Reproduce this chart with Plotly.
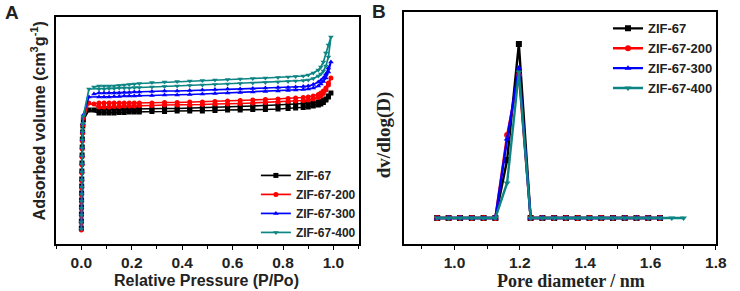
import plotly.graph_objects as go

# ---------------- Panel A data: N2 isotherms ----------------
p_low = [0.0001, 0.0002, 0.0004, 0.0006, 0.0008, 0.001, 0.0013, 0.0016,
         0.002, 0.0025, 0.003, 0.0035, 0.004, 0.005, 0.006, 0.008]
p_ads = [0.03, 0.07, 0.09, 0.11, 0.13, 0.15, 0.17, 0.19, 0.21, 0.23, 0.28, 0.33,
         0.38, 0.43, 0.48, 0.53, 0.58, 0.63, 0.68, 0.73, 0.78, 0.82, 0.85, 0.88,
         0.90, 0.92, 0.94, 0.95, 0.96, 0.97, 0.98, 0.99]
p_des = [0.98, 0.97, 0.96, 0.95, 0.94, 0.92, 0.90, 0.88, 0.85, 0.82, 0.78, 0.73,
         0.68, 0.63, 0.58, 0.53, 0.48, 0.43, 0.38, 0.33, 0.28, 0.23, 0.21, 0.19,
         0.17, 0.15, 0.13, 0.11, 0.09, 0.07, 0.05]

zif67_low = [32, 46, 60, 74, 88, 102, 116, 130, 146, 162, 178, 194, 210, 224, 236, 248]
zif67_ads = [268, 262, 262, 262, 262, 263, 263, 264, 264, 264, 265, 265, 266, 266, 266, 267,
             268, 268, 269, 269, 270, 271, 272, 273, 274, 276, 278, 280, 283, 288, 294, 302]
zif67_des = [296, 290, 287, 285, 284, 282, 282, 281, 280, 279, 278, 277, 276, 275, 274, 273,
             272, 272, 271, 271, 270, 270, 270, 270, 270, 270, 270, 270, 270, 269, 268]

zif200_low = [28, 42, 56, 70, 84, 98, 112, 126, 142, 158, 174, 190, 206, 222, 238, 252]
zif200_ads = [282, 274, 274, 274, 275, 275, 276, 276, 276, 277, 277, 278, 278, 278, 279, 280,
              280, 281, 282, 283, 284, 285, 286, 287, 288, 290, 293, 296, 301, 308, 318, 332]
zif200_des = [322, 312, 306, 302, 299, 296, 294, 293, 292, 291, 290, 289, 288, 287, 286, 285,
              284, 284, 283, 283, 282, 282, 282, 282, 282, 282, 282, 282, 282, 282, 280]

zif300_low = [30, 45, 59, 73, 87, 101, 115, 129, 145, 161, 177, 193, 209, 225, 241, 258]
zif300_ads = [294, 294, 294, 294, 295, 295, 296, 296, 296, 297, 297, 298, 298, 299, 300, 301,
              302, 303, 304, 305, 306, 307, 308, 309, 310, 312, 316, 320, 325, 332, 344, 364]
zif300_des = [352, 340, 332, 327, 324, 319, 316, 315, 314, 313, 313, 312, 311, 310, 310, 309,
              308, 307, 306, 306, 305, 304, 304, 303, 303, 302, 302, 302, 302, 302, 300]

zif400_low = [30, 44, 58, 72, 86, 100, 114, 128, 144, 160, 176, 192, 208, 224, 240, 256]
zif400_ads = [310, 310, 310, 311, 311, 312, 312, 312, 313, 313, 314, 315, 316, 317, 318, 319,
              320, 321, 322, 323, 324, 325, 326, 327, 328, 331, 336, 340, 346, 356, 374, 414]
zif400_des = [398, 382, 364, 354, 348, 342, 338, 336, 335, 334, 333, 332, 331, 330, 329, 328,
              327, 326, 325, 324, 323, 321, 320, 319, 318, 317, 316, 316, 316, 316, 314]

# ---------------- Panel B data: pore size distribution ----------------
pore_d = [0.947, 0.982, 1.017, 1.053, 1.089, 1.125, 1.161, 1.197, 1.233, 1.269,
          1.305, 1.341, 1.377, 1.413, 1.449, 1.485, 1.521, 1.557, 1.593, 1.629]
pore_d_400 = [0.947, 0.982, 1.017, 1.053, 1.089, 1.125, 1.161, 1.197, 1.233, 1.269,
              1.305, 1.341, 1.377, 1.413, 1.449, 1.485, 1.521, 1.557, 1.593, 1.629,
              1.665, 1.701]
psd_67 = [0.26, 0.26, 0.26, 0.26, 0.26, 0.26, 0.84, 2.00, 0.26, 0.26,
          0.26, 0.26, 0.26, 0.26, 0.26, 0.26, 0.26, 0.26, 0.26, 0.26]
psd_200 = [0.26, 0.26, 0.26, 0.26, 0.26, 0.26, 1.09, 1.69, 0.26, 0.26,
           0.26, 0.26, 0.26, 0.26, 0.26, 0.26, 0.26, 0.26, 0.26, 0.26]
psd_300 = [0.26, 0.26, 0.26, 0.26, 0.26, 0.26, 1.05, 1.76, 0.26, 0.26,
           0.26, 0.26, 0.26, 0.26, 0.26, 0.26, 0.26, 0.26, 0.26, 0.26]
psd_400 = [0.26, 0.26, 0.26, 0.26, 0.26, 0.26, 0.61, 1.72, 0.26, 0.26,
           0.26, 0.26, 0.26, 0.26, 0.26, 0.26, 0.26, 0.26, 0.26, 0.26,
           0.26, 0.26]

names = ["ZIF-67", "ZIF-67-200", "ZIF-67-300", "ZIF-67-400"]
colors = ["#000000", "#ff0000", "#0000ff", "#0d8585"]
symbols = ["square", "circle", "triangle-up", "triangle-down"]

iso = [(zif67_low, zif67_ads, zif67_des), (zif200_low, zif200_ads, zif200_des),
       (zif300_low, zif300_ads, zif300_des), (zif400_low, zif400_ads, zif400_des)]
psd = [(pore_d, psd_67), (pore_d, psd_200), (pore_d, psd_300), (pore_d_400, psd_400)]

fig = go.Figure()
for i in range(4):
    low, ads, des = iso[i]
    fig.add_trace(go.Scatter(
        x=p_low + p_ads + p_des, y=low + ads + des, name="<b>" + names[i] + "</b>",
        mode="lines+markers", line=dict(color=colors[i], width=1.7),
        marker=dict(symbol=symbols[i], size=5, color=colors[i]),
        xaxis="x", yaxis="y", legend="legend"))
for i in range(4):
    dx, dy = psd[i]
    fig.add_trace(go.Scatter(
        x=dx, y=dy, name="<b>" + names[i] + "</b>", mode="lines+markers",
        line=dict(color=colors[i], width=2.4),
        marker=dict(symbol=symbols[i], size=6, color=colors[i]),
        xaxis="x2", yaxis="y2", legend="legend2"))

ax_common = dict(showline=True, linecolor="black", linewidth=1.5, mirror=True,
                 showgrid=False, zeroline=False)
tickfont = dict(family="Liberation Sans, Arial", size=15.5, color="#222")

fig.update_layout(
    width=740, height=291, margin=dict(l=0, r=0, t=0, b=0),
    paper_bgcolor="white", plot_bgcolor="white", showlegend=True,
    xaxis=dict(domain=[0.077, 0.492], range=[-0.1, 1.1], anchor="y",
               tickvals=[0.0, 0.2, 0.4, 0.6, 0.8, 1.0],
               ticktext=["<b>0.0</b>", "<b>0.2</b>", "<b>0.4</b>", "<b>0.6</b>", "<b>0.8</b>", "<b>1.0</b>"],
               ticks="outside", ticklen=4, tickwidth=1.3, tickcolor="black",
               minor=dict(dtick=0.1, tick0=0, ticks="outside", ticklen=3, tickcolor="black"),
               tickfont=tickfont, **ax_common),
    yaxis=dict(domain=[0.1615, 0.9416], range=[0, 454], anchor="x",
               showticklabels=False, ticks="", **ax_common),
    xaxis2=dict(domain=[0.554, 0.982], range=[0.845, 1.8], anchor="y2",
                tickvals=[1.0, 1.2, 1.4, 1.6, 1.8],
                ticktext=["<b>1.0</b>", "<b>1.2</b>", "<b>1.4</b>", "<b>1.6</b>", "<b>1.8</b>"],
                ticks="outside", ticklen=4, tickwidth=1.3, tickcolor="black",
                minor=dict(dtick=0.1, tick0=0.9, ticks="outside", ticklen=3, tickcolor="black"),
                tickfont=tickfont, **ax_common),
    yaxis2=dict(domain=[0.1615, 0.9588], range=[0, 2.32], anchor="x2",
                showticklabels=False, ticks="", **ax_common),
    legend=dict(x=0.351, y=0.447, xanchor="left", yanchor="top",
                font=dict(family="Liberation Sans, Arial", size=12, color="#222"),
                bgcolor="rgba(0,0,0,0)", tracegroupgap=0, itemwidth=30),
    legend2=dict(x=0.834, y=0.954, xanchor="left", yanchor="top",
                 font=dict(family="Liberation Sans, Arial", size=13, color="#222"),
                 bgcolor="rgba(0,0,0,0)", tracegroupgap=0, itemwidth=30),
)

ann = [
    dict(text="<b>A</b>", x=3, y=291 - 13, font=dict(size=19, family="Liberation Sans, Arial")),
    dict(text="<b>B</b>", x=376, y=291 - 12, font=dict(size=19, family="Liberation Sans, Arial")),
    dict(text="<b>Relative Pressure (P/Po)</b>", x=210, y=291 - 280, xanchor="center",
         font=dict(size=16, family="Liberation Sans, Arial")),
    dict(text="<b>Adsorbed volume (cm<sup>3</sup>g<sup>-1</sup>)</b>", x=39, y=291 - 121,
         xanchor="center", textangle=-90, font=dict(size=16, family="Liberation Sans, Arial")),
    dict(text="<b>Pore diameter / nm</b>", x=580, y=291 - 281, xanchor="center",
         font=dict(size=18, family="Liberation Serif, Times New Roman")),
    dict(text="<b>dv/dlog(D)</b>", x=390, y=291 - 135, xanchor="center", textangle=-90,
         font=dict(size=19, family="Liberation Serif, Times New Roman")),
]
for a in ann:
    a.setdefault("xanchor", "left")
    fig.add_annotation(xref="paper", yref="paper", x=a["x"] / 740, y=a["y"] / 291,
                       text=a["text"], showarrow=False, xanchor=a["xanchor"], yanchor="middle",
                       textangle=a.get("textangle", 0), font=dict(color="#222", **a["font"]))

fig.write_html("out.html", config={"displayModeBar": False},
               post_script="document.body.style.margin='0';document.body.style.padding='0';")
